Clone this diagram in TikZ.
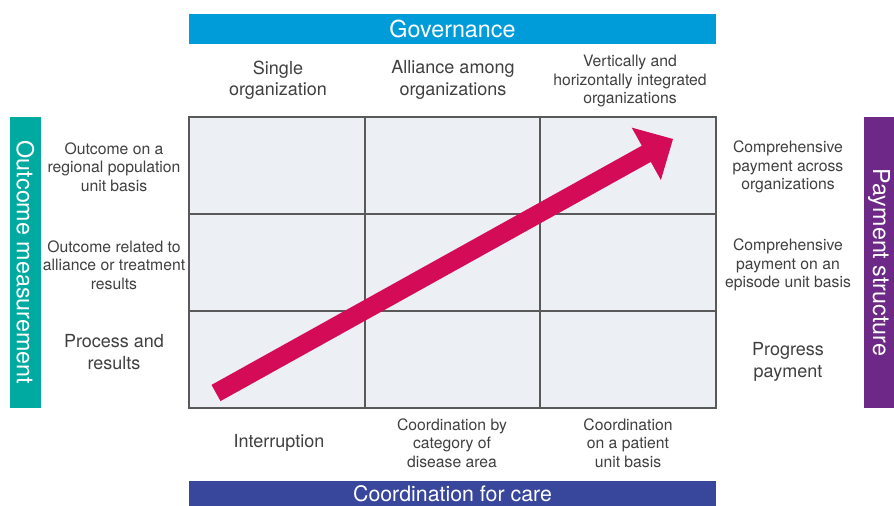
\documentclass[tikz,border=0pt]{standalone}
\usepackage{fontspec}
\setmainfont{TeX Gyre Heros}
\definecolor{govblue}{RGB}{0, 156, 218}
\definecolor{careblue}{RGB}{56, 70, 155}
\definecolor{outteal}{RGB}{0, 170, 160}
\definecolor{paypurple}{RGB}{110, 40, 135}
\definecolor{arrowred}{RGB}{212, 12, 88}
\definecolor{cellgray}{RGB}{236, 239, 243}
\definecolor{labelgray}{RGB}{64, 64, 64}
\usetikzlibrary{positioning}

\begin{document}
\begin{tikzpicture}[x=0.75pt, y=-0.75pt,
  bar/.style={inner sep=0pt, text=white, font=\fontsize{17.5}{20}\selectfont},
  lbl/.style={align=center, text=labelgray, font=\fontsize{11.8}{14}\selectfont},
  biglbl/.style={align=center, text=labelgray, font=\fontsize{13.5}{16}\selectfont},
  gridline/.style={draw=black!65, line width=0.8pt}
]
  \useasboundingbox (0,0) rectangle (894,506);
  \fill[white] (0,0) rectangle (894,506);

  % bars round the matrix
  \node[bar, fill=govblue, minimum width=395.25pt, minimum height=22.5pt] (gov) at (452.5,29) {Governance};
  \node[bar, fill=careblue, minimum width=395.25pt, minimum height=18.75pt, font=\fontsize{16}{19}\selectfont] (care) at (452.5,493.5) {Coordination for care};
  \node[bar, fill=outteal, minimum width=218.25pt, minimum height=23.25pt, rotate=-90] (outcome) at (25.5,262.5) {Outcome measurement};
  \node[bar, fill=paypurple, minimum width=218.25pt, minimum height=22.5pt, rotate=-90] (payment) at (879,262.5) {Payment structure};

  % matrix
  \fill[cellgray] (189,117) rectangle (716,408);
  \draw[gridline] (365,117) -- (365,408) (540,117) -- (540,408)
    (189,214) -- (716,214) (189,311) -- (716,311);
  \draw[gridline] (189,117) rectangle (716,408);

  % governance levels
  \node[biglbl] (single) at (278,80) {Single\\organization};
  \node[biglbl] (alliance) at (453,80) {Alliance among\\organizations};
  \node[lbl] (vertical) at (630,81) {Vertically and\\horizontally integrated\\organizations};

  % outcome levels
  \node[lbl] (regional) at (114,167) {Outcome on a\\regional population\\unit basis};
  \node[lbl] (related) at (114,265) {Outcome related to\\alliance or treatment\\results};
  \node[biglbl] (process) at (114,352) {Process and\\results};

  % payment levels
  \node[lbl] (across) at (788,167) {Comprehensive\\payment across\\organizations};
  \node[lbl] (episode) at (788,265) {Comprehensive\\payment on an\\episode unit basis};
  \node[biglbl] (progress) at (788,362) {Progress\\payment};

  % coordination levels
  \node[biglbl] (interrupt) at (279,443) {Interruption};
  \node[lbl] (disease) at (452,443) {Coordination by\\category of\\disease area};
  \node[lbl] (patient) at (628,443) {Coordination\\on a patient\\unit basis};

  % big arrow
  \fill[arrowred] (211.5,384.9) -- (641.8,145.7) -- (631.7,127.6) -- (673,139)
    -- (660.9,180) -- (650.8,161.9) -- (220.5,401.1) -- cycle;
\end{tikzpicture}
\end{document}
